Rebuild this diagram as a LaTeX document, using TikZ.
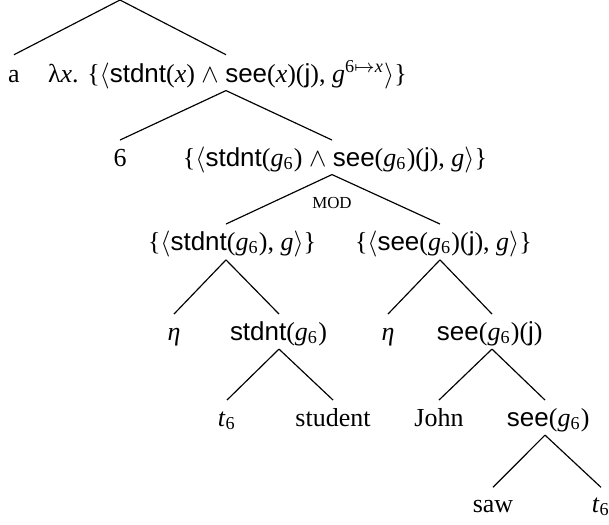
\documentclass[tikz,border=0pt]{standalone}
\usepackage{fontspec}
\setmainfont{Liberation Serif}
\setsansfont{Liberation Sans}
\usetikzlibrary{positioning}

\newdimen\pxu \pxu=0.385pt
\newcommand{\fn}[1]{\textsf{#1}}
\newcommand{\vr}[1]{\textit{#1}}
\newcommand{\gsix}{\textit{g}\textsubscript{6}}
% text that starts #1 px left of the branching point
\newcommand{\headed}[2]{\hbox to 0pt{\kern-#1\pxu #2\hss}}

\begin{document}
\begin{tikzpicture}[x=0.385pt, y=-0.385pt,
    every node/.style={anchor=base, inner sep=0pt, font=\fontsize{10}{12}\selectfont},
    branch/.style={line width=0.45pt},
    modlabel/.style={font=\fontsize{6.5}{8}\selectfont}]
    \useasboundingbox (0,0) rectangle (609,525);

    % Nodes
    \coordinate (Root) at (120,0);
    \node (Det) at (14,82) {a};
    \node (Abstr) at (226,82) {\headed{178}{λ\vr{x}. \{$\langle$\fn{stdnt}(\vr{x}) $\wedge$ \fn{see}(\vr{x})(\fn{j}), \vr{g}\textsuperscript{6$\mapsto$\vr{x}}$\rangle$\}}};

    \node (Index) at (120,166) {6};
    \node (Conj) at (332,166) {\headed{149}{\{$\langle$\fn{stdnt}(\gsix) $\wedge$ \fn{see}(\gsix)(\fn{j}), \vr{g}$\rangle$\}}};
    \node[modlabel] (Mod) at (332,208) {MOD};

    \node (StdntSet) at (226,250) {\headed{78}{\{$\langle$\fn{stdnt}(\gsix), \vr{g}$\rangle$\}}};
    \node (SeeSet) at (440,250) {\headed{85}{\{$\langle$\fn{see}(\gsix)(\fn{j}), \vr{g}$\rangle$\}}};

    \node (EtaL) at (174,340) {\vr{η}};
    \node (Stdnt) at (279,340) {\headed{49}{\fn{stdnt}(\gsix)}};
    \node (EtaR) at (388,340) {\vr{η}};
    \node (SeeJ) at (492,340) {\headed{55}{\fn{see}(\gsix)(\fn{j})}};

    \node (TraceA) at (227,426) {\vr{t}\textsubscript{6}};
    \node (Student) at (333,426) {student};
    \node (John) at (439,426) {John};
    \node (See) at (545,426) {\headed{38}{\fn{see}(\gsix)}};

    \node (Saw) at (493,512) {saw};
    \node (TraceB) at (601,512) {\vr{t}\textsubscript{6}};

    % Edges
    % top
    \draw[branch] (Root) -- ([yshift=10.5pt]Det.base);
    \draw[branch] (Root) -- ([yshift=10.5pt]Abstr.base);

    % lambda abstraction
    \draw[branch] ([yshift=-3.3pt]Abstr.base) -- ([yshift=10pt]Index.base);
    \draw[branch] ([yshift=-3.3pt]Abstr.base) -- ([yshift=10pt]Conj.base);

    % predicate modification
    \draw[branch] ([yshift=-3.3pt]Conj.base) -- ([yshift=10pt]StdntSet.base);
    \draw[branch] ([yshift=-3.3pt]Conj.base) -- ([yshift=10pt]SeeSet.base);

    % eta shifts
    \draw[branch] ([yshift=-3.8pt]StdntSet.base) -- ([yshift=10pt]EtaL.base);
    \draw[branch] ([yshift=-3.8pt]StdntSet.base) -- ([yshift=10pt]Stdnt.base);
    \draw[branch] ([yshift=-3.8pt]SeeSet.base) -- ([yshift=10pt]EtaR.base);
    \draw[branch] ([yshift=-3.8pt]SeeSet.base) -- ([yshift=10pt]SeeJ.base);

    % lexical level
    \draw[branch] ([yshift=-3.5pt]Stdnt.base) -- ([yshift=10pt]TraceA.base);
    \draw[branch] ([yshift=-3.5pt]Stdnt.base) -- ([yshift=10pt]Student.base);
    \draw[branch] ([yshift=-3.5pt]SeeJ.base) -- ([yshift=10pt]John.base);
    \draw[branch] ([yshift=-3.5pt]SeeJ.base) -- ([yshift=10pt]See.base);
    \draw[branch] ([yshift=-3.5pt]See.base) -- ([yshift=9.5pt]Saw.base);
    \draw[branch] ([yshift=-3.5pt]See.base) -- ([yshift=9.5pt]TraceB.base);
\end{tikzpicture}
\end{document}
